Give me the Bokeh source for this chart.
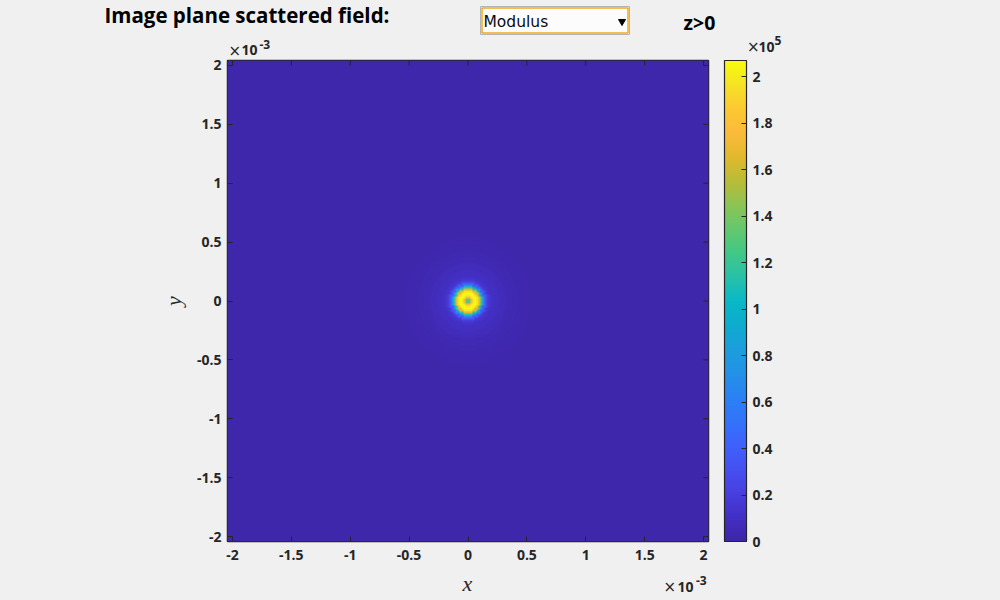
import numpy as np
from bokeh.plotting import figure
from bokeh.layouts import column, row
from bokeh.models import (LinearColorMapper, ColorBar, FixedTicker, Label,
                          CustomJSTickFormatter, Range1d)
from bokeh.embed import file_html
from bokeh.resources import INLINE

# ---------------- data ----------------
x_extent_mm = [-2.042, 2.042]          # image extent, units of 1e-3
y_extent_mm = [-2.042, 2.042]
grid_n = 241                            # cells per side
axis_ticks = [-2, -1.5, -1, -0.5, 0, 0.5, 1, 1.5, 2]
cbar_ticks = [0, 20000, 40000, 60000, 80000, 100000, 120000, 140000, 160000, 180000, 200000]
cbar_low = 0.0
cbar_high = 2.07e5
# modulus of the scattered field (x1e5) read along the radius, one value per grid cell
radial_profile_1e5 = [1.10, 1.35, 1.75, 2.00, 2.06, 1.95, 1.65, 1.15, 0.68, 0.36,
                      0.20, 0.14, 0.12, 0.10, 0.09, 0.10, 0.08, 0.07, 0.075, 0.06,
                      0.05, 0.055, 0.045, 0.04, 0.045, 0.035, 0.03, 0.035, 0.028, 0.03,
                      0.025, 0.027, 0.022, 0.024, 0.02]
background_1e5 = 0.015
title_text = "Image plane scattered field:"
menu_text = "Modulus"
side_text = "z>0"

# parula-like colormap anchors (fraction, rgb)
cmap_pos = [0.00, 0.05, 0.10, 0.15, 0.20, 0.25, 0.30, 0.35, 0.40, 0.45, 0.50,
            0.55, 0.60, 0.65, 0.70, 0.75, 0.80, 0.85, 0.90, 0.95, 1.00]
cmap_rgb = [(62, 38, 168), (67, 47, 196), (72, 63, 224), (71, 80, 242), (62, 98, 250),
            (50, 115, 250), (42, 130, 244), (35, 145, 232), (28, 158, 220), (14, 172, 206),
            (8, 185, 197), (40, 193, 168), (65, 200, 135), (100, 200, 110), (140, 196, 85),
            (185, 188, 55), (225, 185, 45), (250, 187, 60), (253, 200, 50), (245, 225, 38),
            (249, 251, 14)]

# ---------------- build ----------------
t = np.linspace(0, 1, 256)
arr = np.array(cmap_rgb, dtype=float)
palette = ["#%02x%02x%02x" % tuple(int(round(np.interp(v, cmap_pos, arr[:, c]))) for c in range(3)) for v in t]

half = grid_n // 2
idx = np.arange(grid_n) - half
ii, jj = np.meshgrid(idx, idx)
k = np.rint(np.hypot(ii, jj)).astype(int)
prof = np.array(radial_profile_1e5 + [background_1e5]) * 1e5
k = np.minimum(k, len(radial_profile_1e5))
field = prof[k]

BG = "#f0f0f0"
DARK = "#262626"
FONT = "Open Sans"
W = 1000
OVERLAP = 12   # main plot canvas starts this many px above its frame, over the header


def strip(h, y_top, y_bottom):
    f = figure(width=W, height=h, output_backend="svg", toolbar_location=None,
               x_range=Range1d(0, W), y_range=Range1d(y_bottom, y_top),
               x_axis_type=None, y_axis_type=None, min_border=0,
               min_border_left=0, min_border_right=0, min_border_top=0, min_border_bottom=0,
               background_fill_color=BG, border_fill_color=BG, outline_line_color=None)
    f.grid.visible = False
    return f


# header strip (page y 0..60) and footer strip (page y 570..600)
hdr = strip(60, 0, 60)
ftr = strip(30, 570, 600)


def lab(fig, text, px, py, size, style="normal", font=FONT, color="black", align="left"):
    # py = visual middle of the text line, page coordinates
    fig.add_layout(Label(x=px, y=py, text=text, text_font=font, text_font_size=size,
                         text_font_style=style, text_color=color, text_align=align,
                         text_baseline="middle"))


lab(hdr, title_text, 104, 14.5, "20.5px", "bold")
# drop-down menu look
hdr.quad(left=[480], right=[629], top=[6], bottom=[34], fill_color="#fcfcfc",
         line_color="#b4b4b4", line_width=1)
hdr.quad(left=[481.5], right=[627.5], top=[7.5], bottom=[32.5], fill_color=None,
         line_color="#f0a820", line_width=1.5)
lab(hdr, menu_text, 483, 21.5, "15.5px", "normal", font="DejaVu Sans", color="#0a0a14")
hdr.scatter(x=[621.5], y=[21], marker="inverted_triangle", size=7, fill_color="black",
            line_color="black")
lab(hdr, side_text, 683, 21.5, "19.5px", "bold")
# x10^-3 above the y axis
lab(hdr, "\u00d7", 228, 50, "15px", "normal", font="DejaVu Sans", color=DARK)
lab(hdr, "10", 241, 49.8, "14px", "bold", color=DARK)
lab(hdr, "-3", 259, 43.5, "12px", "bold", color=DARK)
# x10^5 above the colour bar
lab(hdr, "\u00d7", 746.5, 46.5, "15px", "normal", font="DejaVu Sans", color=DARK)
lab(hdr, "10", 758, 46.2, "14px", "bold", color=DARK)
lab(hdr, "5", 774, 40, "12px", "bold", color=DARK)

lab(ftr, "x", 467, 583, "22px", "italic", font="Liberation Serif", color=DARK, align="center")
lab(ftr, "\u00d7", 663, 586.5, "15px", "normal", font="DejaVu Sans", color=DARK)
lab(ftr, "10", 677, 586.3, "14px", "bold", color=DARK)
lab(ftr, "-3", 695.5, 580, "12px", "bold", color=DARK)

# ---------------- main plot ----------------
p = figure(frame_width=481, frame_height=481, output_backend="svg", toolbar_location=None,
           x_range=Range1d(*x_extent_mm), y_range=Range1d(*y_extent_mm),
           min_border_left=227, min_border_top=OVERLAP, min_border_right=200, min_border_bottom=29,
           background_fill_color=BG, border_fill_color=None)
p.grid.visible = False
p.outline_line_color = DARK
p.outline_line_width = 1.5

mapper = LinearColorMapper(palette=palette, low=cbar_low, high=cbar_high)
p.image(image=[field], x=x_extent_mm[0], y=y_extent_mm[0],
        dw=x_extent_mm[1] - x_extent_mm[0], dh=y_extent_mm[1] - y_extent_mm[0],
        color_mapper=mapper)

# inner ticks on the top and right edges of the box (outer half is clipped by the frame)
nt = len(axis_ticks)
p.scatter(x=axis_ticks, y=[y_extent_mm[1]] * nt, marker="dash", size=10, angle=np.pi / 2,
          line_color=DARK, line_width=1)
p.scatter(x=[x_extent_mm[1]] * nt, y=axis_ticks, marker="dash", size=10, angle=0,
          line_color=DARK, line_width=1)

tick_fmt = CustomJSTickFormatter(code="return tick.toString()")


def style_axis(ax):
    ax.ticker = FixedTicker(ticks=axis_ticks)
    ax.formatter = tick_fmt
    ax.axis_line_color = None
    ax.major_tick_in = 5
    ax.major_tick_out = 0
    ax.major_tick_line_color = DARK
    ax.minor_tick_line_color = None
    ax.major_label_text_font = FONT
    ax.major_label_text_font_style = "bold"
    ax.major_label_text_color = DARK
    ax.major_label_text_font_size = "14px"


style_axis(p.xaxis[0])
style_axis(p.yaxis[0])
p.xaxis[0].major_label_standoff = 8
p.yaxis[0].major_label_standoff = 6
p.yaxis[0].axis_label = "y"
p.yaxis[0].axis_label_text_font = "Liberation Serif"
p.yaxis[0].axis_label_text_font_style = "italic"
p.yaxis[0].axis_label_text_font_size = "22px"
p.yaxis[0].axis_label_text_color = DARK
p.yaxis[0].axis_label_standoff = 8

cb = ColorBar(color_mapper=mapper, ticker=FixedTicker(ticks=cbar_ticks),
              formatter=CustomJSTickFormatter(code="return (tick/1e5).toString()"),
              width=22, height=481, padding=0, margin=0, location=(16, 0),
              bar_line_color=DARK, bar_line_width=1.2,
              major_tick_in=5, major_tick_out=0, major_tick_line_color=DARK,
              minor_tick_line_color=None, label_standoff=6,
              major_label_text_font=FONT, major_label_text_font_style="bold",
              major_label_text_font_size="14px", major_label_text_color=DARK,
              background_fill_color=None, border_line_color=None)
p.add_layout(cb, "right")

layout = column(row(hdr), row(p, styles={"margin-top": "-%dpx" % OVERLAP}), row(ftr),
                spacing=0, styles={"background-color": BG})

html = file_html(layout, INLINE)
html = html.replace("<body>", '<body style="background:#f0f0f0">')
open("out.html", "w").write(html)
